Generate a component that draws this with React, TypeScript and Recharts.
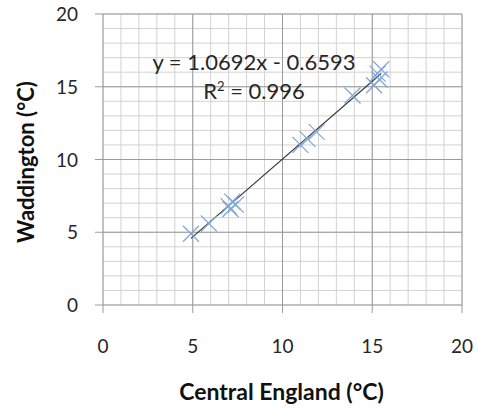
import { ScatterChart, Scatter, XAxis, YAxis, CartesianGrid, ReferenceLine } from 'recharts';

// Central England vs Waddington monthly temperatures (°C)
const centralEngland = [4.9, 5.9, 7.0, 7.2, 7.4, 7.1, 11.0, 11.4, 11.9, 13.9, 15.1, 15.3, 15.5, 15.4];
const waddington = [4.9, 5.6, 6.8, 7.1, 6.9, 6.6, 11.0, 11.4, 11.9, 14.4, 15.1, 15.9, 16.2, 15.5];
const slope = 1.0692;
const intercept = -0.6593;
const gridTicks = Array.from({ length: 21 }, (_, i) => i);
const majorTicks = [5, 10, 15, 20];

const points = centralEngland.map((x, i) => ({ x, y: waddington[i] }));
const xMin = Math.min(...centralEngland);
const xMax = Math.max(...centralEngland);

const FONT = 'Lato, "Open Sans", sans-serif';
const TEXT = '#262626';
const MAJOR = '#9a9a9a';
const MINOR = '#d2d2d2';

const Cross = (props: any) => {
  const { cx, cy } = props;
  const s = 8;
  return (
    <g stroke="#7fa6d8" strokeWidth={1.2}>
      <line x1={cx - s} y1={cy - s} x2={cx + s} y2={cy + s} />
      <line x1={cx - s} y1={cy + s} x2={cx + s} y2={cy - s} />
    </g>
  );
};

const XTick = ({ x, y, payload }: any) => {
  if (payload.value % 5 !== 0) return null;
  return (
    <g>
      <line x1={x} y1={y - 8} x2={x} y2={y} stroke={MAJOR} />
      <text x={x} y={y + 40} textAnchor="middle" fill={TEXT} fontSize={19} fontFamily={FONT}>
        {payload.value}
      </text>
    </g>
  );
};

const YTick = ({ x, y, payload }: any) => {
  if (payload.value % 5 !== 0) return null;
  return (
    <g>
      <line x1={x} y1={y} x2={x + 8} y2={y} stroke={MAJOR} />
      <text x={x - 17} y={y + 7} textAnchor="end" fill={TEXT} fontSize={19} fontFamily={FONT}>
        {payload.value}
      </text>
    </g>
  );
};

export default function App() {
  return (
    <div style={{ position: 'absolute', left: 0, top: 0, width: 478, height: 409, background: '#fff' }}>
      <ScatterChart width={478} height={409} margin={{ top: 14, right: 16, bottom: 0, left: 0 }}>
        <CartesianGrid stroke={MINOR} />
        <XAxis
          type="number"
          dataKey="x"
          domain={[0, 20]}
          ticks={gridTicks}
          interval={0}
          height={104}
          tickSize={8}
          tickMargin={0}
          tickLine={false}
          axisLine={{ stroke: MAJOR }}
          tick={<XTick />}
        />
        <YAxis
          type="number"
          dataKey="y"
          domain={[0, 20]}
          ticks={gridTicks}
          interval={0}
          width={103}
          tickSize={8}
          tickMargin={0}
          tickLine={false}
          axisLine={{ stroke: MAJOR }}
          tick={<YTick />}
        />
        {majorTicks.map((v) => (
          <ReferenceLine key={'vx' + v} x={v} stroke={MAJOR} />
        ))}
        {majorTicks.map((v) => (
          <ReferenceLine key={'hy' + v} y={v} stroke={MAJOR} />
        ))}
        <Scatter data={points} shape={<Cross />} isAnimationActive={false} />
        <ReferenceLine
          segment={[
            { x: xMin, y: slope * xMin + intercept },
            { x: xMax, y: slope * xMax + intercept },
          ]}
          stroke="#3a3a3a"
          strokeWidth={1.2}
        />
      </ScatterChart>
      <div style={{ position: 'absolute', left: 104, width: 300, top: 47, textAlign: 'center', fontFamily: FONT, fontSize: 22, color: TEXT, lineHeight: '29px' }}>
        y = 1.0692x - 0.6593
        <br />
        R<sup style={{ fontSize: 13, verticalAlign: 'super', lineHeight: 0 }}>2</sup> = 0.996
      </div>
      <div style={{ position: 'absolute', left: 0, width: 563, top: 377, textAlign: 'center', fontFamily: FONT, fontSize: 23, fontWeight: 700, color: '#111' }}>
        Central England (°C)
      </div>
      <div
        style={{
          position: 'absolute',
          left: 25,
          top: 162,
          transform: 'translate(-50%, -50%) rotate(-90deg)',
          whiteSpace: 'nowrap',
          fontFamily: FONT,
          fontSize: 22,
          fontWeight: 700,
          color: '#111',
        }}
      >
        Waddington (°C)
      </div>
    </div>
  );
}
